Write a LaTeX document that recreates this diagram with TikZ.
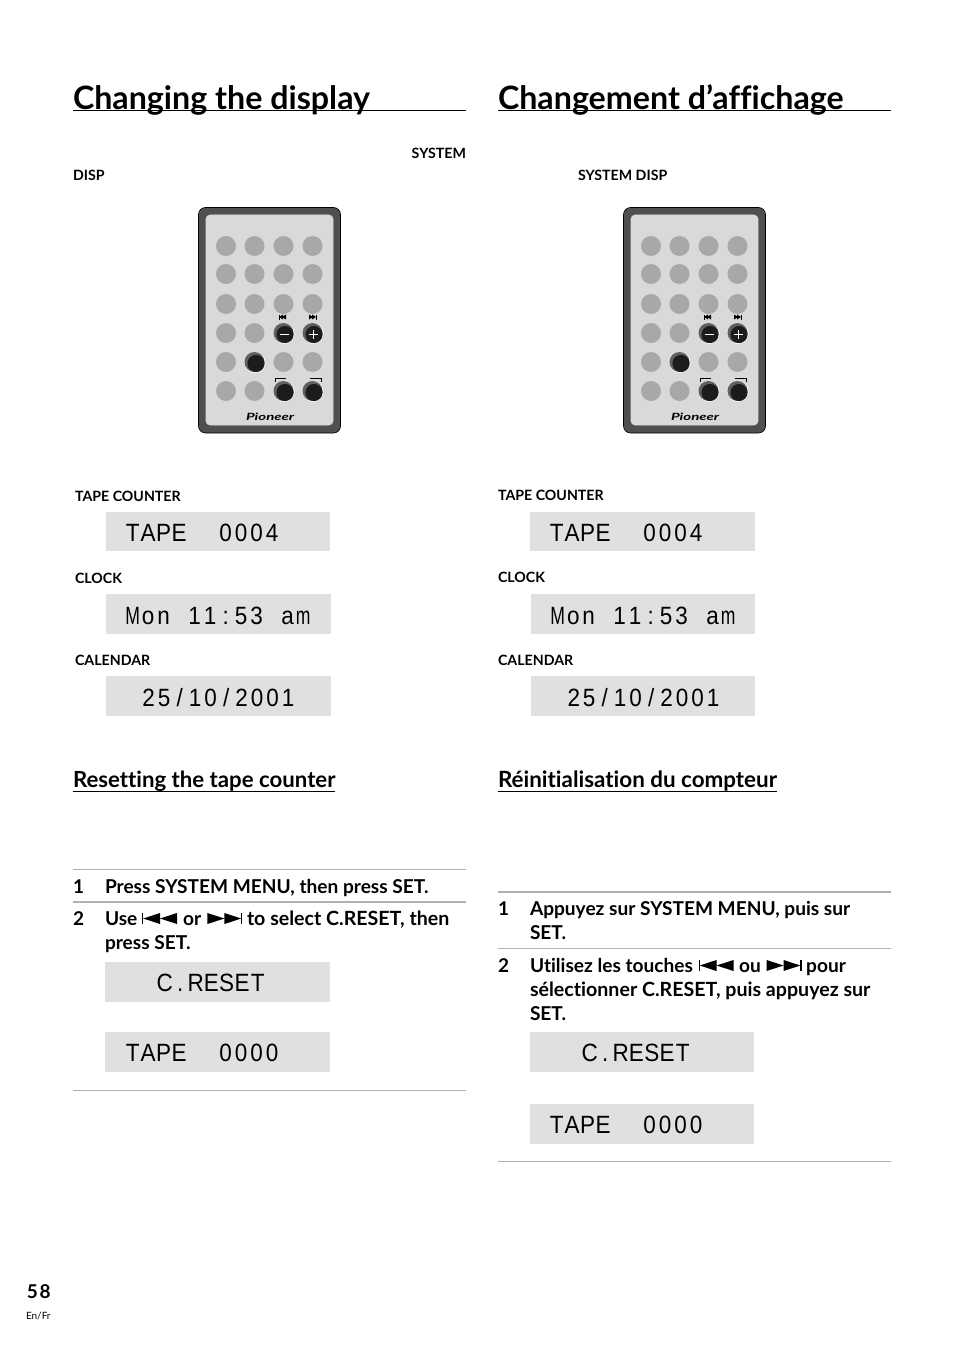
\documentclass[tikz,border=0pt]{standalone}
\usepackage{fontspec}
\usepackage{graphicx}
\setmainfont[Ligatures=NoCommon]{Lato}
\newfontface\pgfont[LetterSpace=8]{Lato Bold}
\newfontface\pioneerfont{Lato Bold Italic}
\newfontfamily\lcdfont[FakeStretch=.9]{Liberation Sans}
\definecolor{lcdgrey}{HTML}{E0E0E0}
\definecolor{rulegrey}{HTML}{B0B0B0}
\definecolor{keygrey}{HTML}{A8A8A8}
\definecolor{shellgrey}{HTML}{4F4F4F}
\definecolor{facegrey}{HTML}{D9D9D9}
\definecolor{keydark}{HTML}{1C1C1C}
\definecolor{keyrim}{HTML}{606060}
\newcommand{\prevsym}{\tikz[x=1pt,y=1pt,baseline=0pt]{\fill (0,1) rectangle (1.2,12);\fill (1.2,6.5)--(18,12)--(18,1)--cycle;\fill (18,6.5)--(35,12)--(35,1)--cycle;}}
\newcommand{\nextsym}{\tikz[x=1pt,y=1pt,baseline=0pt]{\fill (0,12)--(17,6.5)--(0,1)--cycle;\fill (17,12)--(33.8,6.5)--(17,1)--cycle;\fill (33.8,1) rectangle (35,12);}}
\newcommand{\widetext}[1]{{\fontsize{19.6}{24}\selectfont #1}}
% fixed-pitch LCD lettering, one box per character
\newcommand{\lmM}{\scalebox{.78}[1]{M}}
\newcommand{\lmm}{\scalebox{.78}[1]{m}}
\makeatletter
\newcommand{\lcdrun}[1]{\@tfor\lcd@c:=#1\do{\makebox[15.5pt][c]{\lcd@c}}}
\makeatother
\tikzset{
  txt/.style={anchor=base west,inner sep=0pt,outer sep=0pt,text=black},
  title/.style={txt,font=\fontsize{32.2}{33}\selectfont\bfseries},
  small/.style={txt,font=\fontsize{14.2}{14}\selectfont\bfseries},
  subhead/.style={txt,font=\fontsize{22.2}{22}\selectfont\bfseries},
  stepnum/.style={txt,font=\fontsize{19}{19}\selectfont\bfseries},
  steptext/.style={txt,font=\fontsize{19.1}{24}\selectfont\bfseries,align=left},
  lcdtext/.style={txt,font=\fontsize{25}{26}\selectfont\lcdfont},
  lcdbox/.style={fill=lcdgrey,draw=none},
  thinrule/.style={draw=rulegrey,line width=1pt},
  thickrule/.style={draw=rulegrey,line width=1.6pt},
}
% \remote{dx}: remote control drawn with its left edge shifted by dx
\newcommand{\remote}[1]{%
\begin{scope}[xshift=#1pt]
  \fill[shellgrey,rounded corners=7pt,draw=black,line width=.6pt] (198.5,207.5) rectangle (340.5,433);
  \fill[facegrey,rounded corners=4pt,draw=white!70!gray,line width=.6pt] (206,215) rectangle (333,425);
  \foreach \yy in {246,274,304,333,362,391}
    \foreach \xx in {226,254.5,283.5,312.5}
      \fill[keygrey] (\xx,\yy) circle (10);
  \foreach \xx/\yy in {283.5/333,312.5/333,254.5/362,283.5/391,312.5/391}{
    \fill[white] (\xx+.5,\yy+.5) circle (10.5);
    \fill[keyrim] (\xx,\yy) circle (10);
    \fill[keydark] (\xx+1.5,\yy+1.5) circle (8.6);
  }
  \draw[white,line width=1pt] (279.5,334) -- (288.5,334);
  \draw[white,line width=1pt] (308.5,334) -- (317.5,334) (313,329.5) -- (313,338.5);
  \foreach \xx in {0,3}{\fill (279+\xx,317) -- (283+\xx,319.5) -- (283+\xx,314.5) -- cycle;}
  \fill (278.5,314.5) rectangle (279,319.5);
  \foreach \xx in {0,3}{\fill (309+\xx,314.5) -- (313+\xx,317) -- (309+\xx,319.5) -- cycle;}
  \fill (316,314.5) rectangle (316.5,319.5);
  \draw[line width=.6pt] (275,382) -- (275,378) -- (286,378);
  \draw[line width=.6pt] (310,378) -- (321.5,378) -- (321.5,382);
  \node[txt,font=\fontsize{10}{10}\selectfont\pioneerfont] at (246,420) {\scalebox{1.5}[1]{Pioneer}};
\end{scope}}
\newcommand{\lcd}[8]{%
  \fill[lcdbox] (#2,#3) rectangle (#4,#5);
  \node[lcdtext] (#1) at (#6,#7) {\lcdrun{#8}};}
\begin{document}
\begin{tikzpicture}[x=1pt,y=-1pt]
\useasboundingbox[fill=white] (0,0) rectangle (954,1348);

% left column
\node[title] (t1) at (73,110) {Changing the display};
\draw[line width=.8pt] (73,110.5) -- (466,110.5);
\node[small,anchor=base east] (sys1) at (466,158.5) {SYSTEM};
\node[small] (disp1) at (73,180.5) {DISP};
\remote{0}
\node[small] (tc1) at (75,501) {TAPE COUNTER};
\lcd{l1}{106}{512}{330}{551}{125}{541}{TAPE~~0004}
\node[small] (cl1) at (75,583) {CLOCK};
\lcd{l2}{106}{594}{331}{634}{125}{624}{\lmM on~11:53~a\lmm}
\node[small] (ca1) at (75,665) {CALENDAR};
\lcd{l3}{106}{676}{331}{716}{141}{706}{25/10/2001}
\node[subhead] (s1) at (73,787) {Resetting the tape counter};
\draw[line width=1pt] (73,791) -- (335,791);
\draw[thinrule] (73,869.5) -- (466,869.5);
\node[stepnum] (n1) at (73,893) {1};
\node[steptext] (p1) at (105,893) {Press SYSTEM MENU, then press SET.};
\draw[thickrule] (73,902) -- (466,902);
\node[stepnum] (n2) at (73,925) {2};
\node[steptext] (p2) at (105,925) {Use \prevsym{}\hspace{1.5pt} or\hspace{1.5pt} \nextsym{} \widetext{to select C.RESET, then}};
\node[steptext] (p2b) at (105,949) {press SET.};
\lcd{l4}{105}{962}{330}{1002}{157}{991}{C.RESET}
\lcd{l5}{105}{1032}{330}{1072}{125}{1061}{TAPE~~0000}
\draw[thinrule] (73,1090.5) -- (466,1090.5);

% right column
\node[title] (t2) at (498,110) {Changement d’affichage};
\draw[line width=.8pt] (498,110.5) -- (891,110.5);
\node[small] (sys2) at (578,180.5) {SYSTEM DISP};
\remote{425}
\node[small] (tc2) at (498,500) {TAPE COUNTER};
\lcd{r1}{530}{512}{755}{551}{549}{541}{TAPE~~0004}
\node[small] (cl2) at (498,582) {CLOCK};
\lcd{r2}{531}{594}{755}{634}{550}{624}{\lmM on~11:53~a\lmm}
\node[small] (ca2) at (498,665) {CALENDAR};
\lcd{r3}{531}{676}{755}{716}{566}{706}{25/10/2001}
\node[subhead,font=\fontsize{22.4}{22}\selectfont\bfseries] (s2) at (498,787) {Réinitialisation du compteur};
\draw[line width=1pt] (498,791) -- (777,791);
\draw[thickrule] (498,892) -- (891,892);
\node[stepnum] (n3) at (498,915) {1};
\node[steptext] (q1) at (530,915) {Appuyez sur SYSTEM MENU, puis sur};
\node[steptext] (q1b) at (530,939) {SET.};
\draw[thinrule] (498,948.5) -- (891,948.5);
\node[stepnum] (n4) at (498,972) {2};
\node[steptext] (q2) at (530,972) {Utilisez les touches\hspace{1pt} \prevsym{}\hspace{1pt} ou\hspace{1pt} \nextsym{} pour};
\node[steptext] (q2b) at (530,996) {\widetext{sélectionner C.RESET, puis appuyez sur}};
\node[steptext] (q2c) at (530,1020) {SET.};
\lcd{r4}{530}{1032}{754}{1072}{582}{1061}{C.RESET}
\lcd{r5}{530}{1104}{754}{1144}{549}{1133}{TAPE~~0000}
\draw[thinrule] (498,1161.5) -- (891,1161.5);

% folio
\node[txt,font=\fontsize{19}{19}\selectfont\pgfont] (pg) at (27,1298) {58};
\node[txt,font=\fontsize{10}{10}\selectfont] (lang) at (26,1319) {En/Fr};
\end{tikzpicture}
\end{document}
